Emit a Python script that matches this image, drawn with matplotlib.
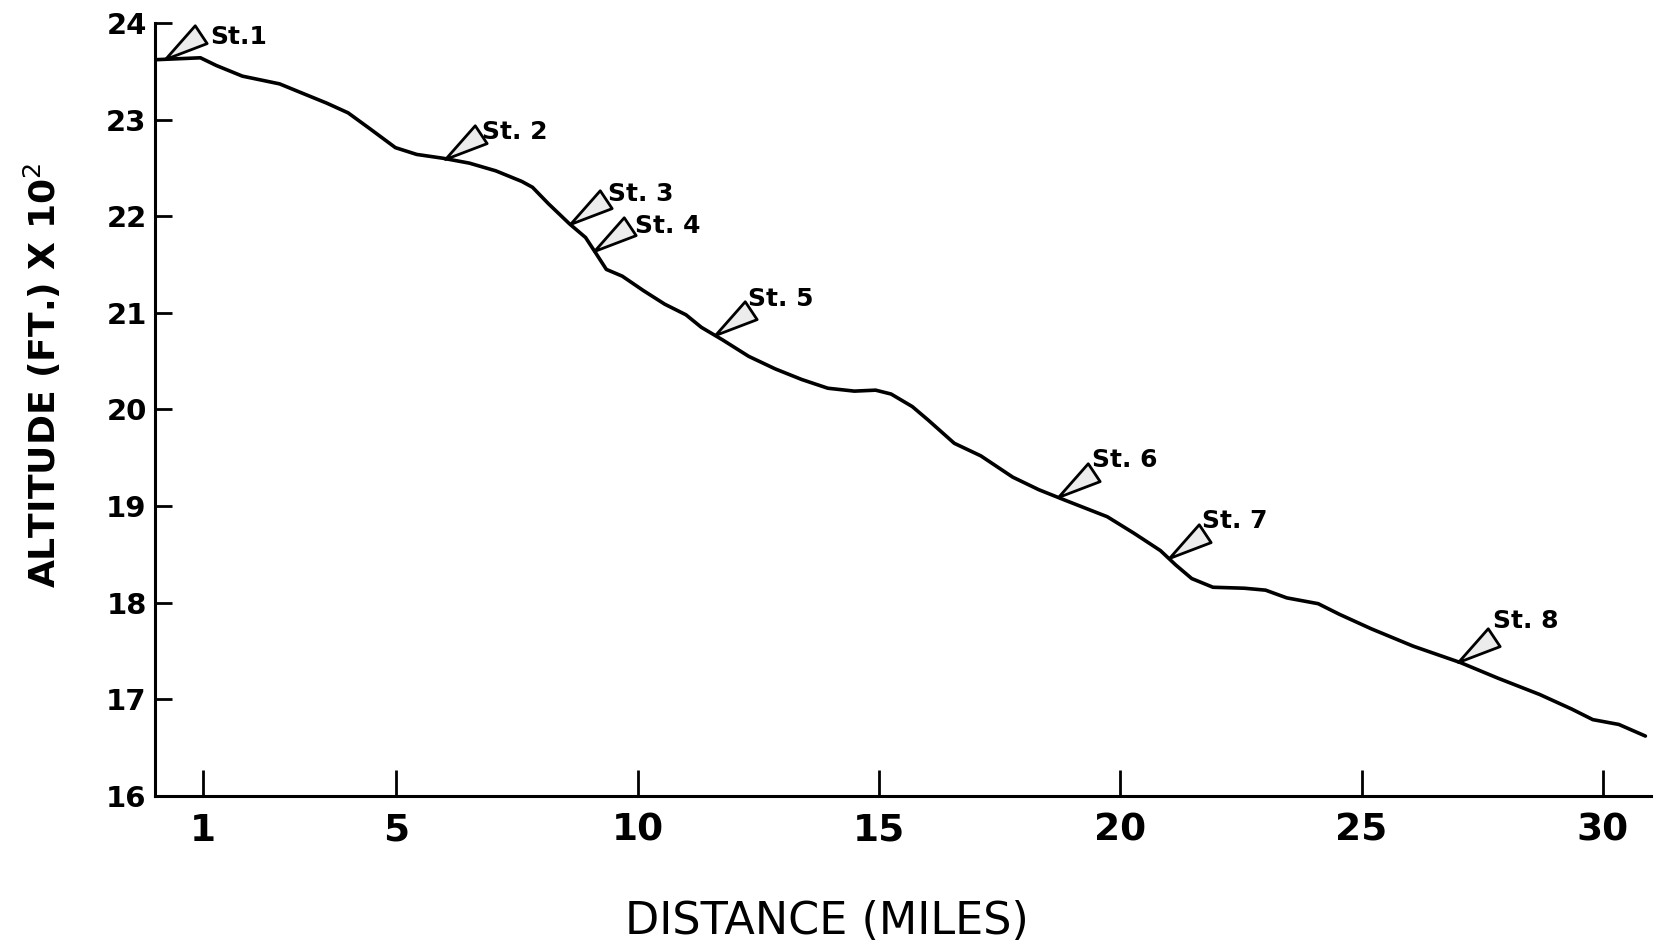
import numpy as np
import matplotlib
matplotlib.use('Agg')
from matplotlib import pyplot as plt
from matplotlib.path import Path

# altitude profile (distance in miles, altitude in ft x 100)
dist = [0.0, 0.94, 1.27, 1.81, 2.58, 3.02, 3.56, 4.0, 4.44, 4.98, 5.42, 5.97, 6.51, 7.06,
        7.6, 7.82, 8.15, 8.59, 8.92, 9.13, 9.35, 9.68, 10.12, 10.56, 11.0, 11.32, 11.76,
        12.3, 12.85, 13.4, 13.94, 14.49, 14.93, 15.25, 15.69, 16.02, 16.56, 17.11, 17.77,
        18.31, 18.86, 19.73, 20.28, 20.83, 21.15, 21.48, 21.92, 22.57, 23.01, 23.45, 24.1,
        24.54, 25.2, 26.07, 27.05, 27.82, 28.69, 29.35, 29.79, 30.33, 30.88]
alt = [23.62, 23.64, 23.56, 23.45, 23.37, 23.28, 23.17, 23.07, 22.91, 22.71, 22.64, 22.60,
       22.55, 22.47, 22.36, 22.30, 22.13, 21.92, 21.78, 21.62, 21.45, 21.38, 21.23, 21.09,
       20.98, 20.85, 20.72, 20.55, 20.42, 20.31, 20.22, 20.19, 20.20, 20.16, 20.03, 19.89,
       19.65, 19.52, 19.30, 19.17, 19.06, 18.89, 18.72, 18.54, 18.39, 18.25, 18.16, 18.15,
       18.13, 18.05, 17.99, 17.88, 17.73, 17.55, 17.38, 17.22, 17.05, 16.90, 16.79, 16.74,
       16.62]

st_names = ['St.1', 'St. 2', 'St. 3', 'St. 4', 'St. 5', 'St. 6', 'St. 7', 'St. 8']
st_dist = [0.2, 6.0, 8.6, 9.1, 11.6, 18.7, 21.0, 27.0]

xticks = [1, 5, 10, 15, 20, 25, 30]
yticks = [16, 17, 18, 19, 20, 21, 22, 23, 24]

# label offsets from the flag tip, in points
lab_off = [(33, 11), (27, 14), (27, 17), (29, 13), (24, 21), (25, 22), (24, 22), (25, 24)]

fig = plt.figure(figsize=(16.55, 9.47), dpi=100)
ax = fig.add_axes([0.0937, 0.1595, 0.904, 0.8162])

ax.plot(dist, alt, color='black', lw=2.6, solid_capstyle='round',
        solid_joinstyle='round', zorder=3)

# flag-shaped station pointer, tip sits on the profile
flag = Path([(0, 0), (30, 34), (42, 16), (0, 0)],
            [Path.MOVETO, Path.LINETO, Path.LINETO, Path.CLOSEPOLY])
st_alt = np.interp(st_dist, dist, alt)
for name, sx, sy, off in zip(st_names, st_dist, st_alt, lab_off):
    ax.plot(sx, sy, marker=flag, ms=60, mfc='#ececec', mec='black', mew=2.0,
            ls='none', zorder=4, clip_on=False)
    ax.annotate(name, (sx, sy), xytext=off, textcoords='offset points',
                fontsize=18, fontweight='bold', ha='left', va='baseline')

ax.set_xlim(0, 31)
ax.set_ylim(16, 24)
ax.spines['top'].set_visible(False)
ax.spines['right'].set_visible(False)
ax.spines['left'].set_linewidth(2.2)
ax.spines['bottom'].set_linewidth(2.2)

ax.set_xticks(xticks)
ax.set_xticklabels([str(t) for t in xticks], fontsize=27, fontweight='bold')
ax.set_yticks(yticks)
ax.set_yticklabels([str(t) for t in yticks], fontsize=21, fontweight='bold')
ax.tick_params(axis='x', direction='in', length=19, width=2.0, pad=12)
ax.tick_params(axis='y', direction='in', length=12, width=2.0, pad=6)

fig.text(0.0254, 0.604, 'ALTITUDE (FT.) X 10$^{2}$', rotation=90, fontsize=26,
         fontweight='bold', ha='center', va='center')
fig.text(0.4997, 0.027, 'DISTANCE (MILES)', fontsize=32, ha='center', va='center')

fig.savefig('out.png', dpi=100, facecolor='white')
